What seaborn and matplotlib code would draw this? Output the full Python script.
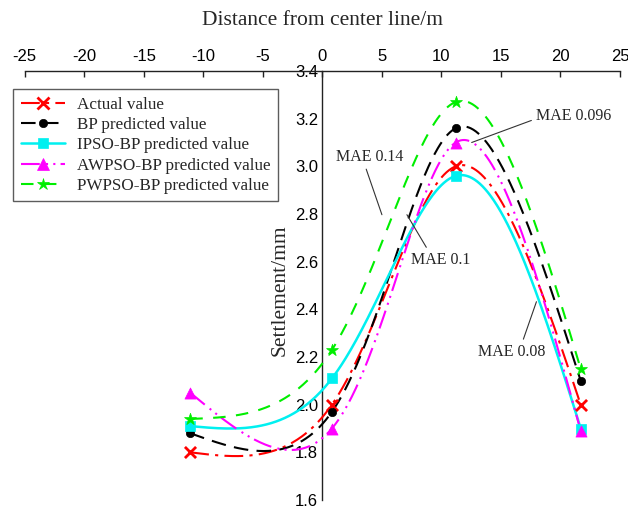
import numpy as np
import pandas as pd
import matplotlib
matplotlib.use("Agg")
import matplotlib.pyplot as plt
from matplotlib.lines import Line2D
import seaborn as sns

# Monitoring points (distance from center line, m)
distance = [-11.1, 0.8, 11.2, 21.7]

# Settlement values (mm) at each monitoring point
actual = [1.80, 2.00, 3.00, 2.00]
bp = [1.88, 1.97, 3.16, 2.10]
ipso_bp = [1.91, 2.11, 2.96, 1.90]
awpso_bp = [2.05, 1.90, 3.10, 1.89]
pwpso_bp = [1.94, 2.23, 3.27, 2.15]

series_names = ["Actual value", "BP predicted value", "IPSO-BP predicted value",
                "AWPSO-BP predicted value", "PWPSO-BP predicted value"]
series_values = [actual, bp, ipso_bp, awpso_bp, pwpso_bp]

x_ticks = [-25, -20, -15, -10, -5, 0, 5, 10, 15, 20, 25]
y_ticks = [1.6, 1.8, 2.0, 2.2, 2.4, 2.6, 2.8, 3.0, 3.2, 3.4]

mae_labels = ["MAE 0.14", "MAE 0.1", "MAE 0.096", "MAE 0.08"]

colors = ["#ff0000", "#000000", "#00f0f0", "#ff00ff", "#00ee00"]
markers = ["x", "o", "s", "^", "*"]
marker_sizes = [8, 6, 7, 8, 9]
dash_styles = [(0, (9, 3, 1.5, 3)), (0, (7, 4)), "-", (0, (9, 3, 1, 2.5, 1, 2.5)), (0, (6, 5))]
line_widths = [1.5, 1.5, 1.8, 1.5, 1.5]


def natural_coeffs(t, v):
    """Second derivatives of a natural cubic spline v(t)."""
    k = len(t)
    h = np.diff(t)
    A = np.zeros((k, k))
    b = np.zeros(k)
    A[0, 0] = A[-1, -1] = 1.0
    for i in range(1, k - 1):
        A[i, i - 1] = h[i - 1]
        A[i, i] = 2 * (h[i - 1] + h[i])
        A[i, i + 1] = h[i]
        b[i] = 6 * ((v[i + 1] - v[i]) / h[i] - (v[i] - v[i - 1]) / h[i - 1])
    return np.linalg.solve(A, b)


def eval_spline(t, v, m, ts):
    idx = np.clip(np.searchsorted(t, ts) - 1, 0, len(t) - 2)
    t0, t1 = t[idx], t[idx + 1]
    hi = t1 - t0
    a, c = t1 - ts, ts - t0
    return (m[idx] * a ** 3 + m[idx + 1] * c ** 3) / (6 * hi) \
        + (v[idx] / hi - m[idx] * hi / 6) * a \
        + (v[idx + 1] / hi - m[idx + 1] * hi / 6) * c


def smooth_curve(x, y, yscale=9.0, n=400):
    """Parametric (chord-length) natural cubic spline through the points."""
    x = np.asarray(x, float)
    y = np.asarray(y, float)
    ys_ = y * yscale
    seg = np.hypot(np.diff(x), np.diff(ys_))
    t = np.concatenate([[0.0], np.cumsum(seg)])
    ts = np.linspace(0, t[-1], n)
    xs = eval_spline(t, x, natural_coeffs(t, x), ts)
    yy = eval_spline(t, ys_, natural_coeffs(t, ys_), ts) / yscale
    return xs, yy


sns.set_style("white")
plt.rcParams["font.family"] = ["Liberation Sans", "DejaVu Sans"]
plt.rcParams["axes.unicode_minus"] = False

fig = plt.figure(figsize=(6.28, 5.12), dpi=100)
ax = fig.add_axes([24.8 / 628, 12 / 512, (620 - 24.8) / 628, (500 - 71) / 512])

handles = []
for name, vals, c, mk, ms, ls, lw in zip(series_names, series_values, colors, markers,
                                         marker_sizes, dash_styles, line_widths):
    xs, ys = smooth_curve(distance, vals)
    curve = pd.DataFrame({"x": xs, "y": ys})
    sns.lineplot(data=curve, x="x", y="y", ax=ax, color=c, linestyle=ls,
                 linewidth=lw, sort=False, estimator=None, legend=False, zorder=3)
    pts = pd.DataFrame({"x": distance, "y": vals})
    mk_kw = dict(linewidth=2) if mk == "x" else dict(edgecolor=c, linewidth=0.5)
    sns.scatterplot(data=pts, x="x", y="y", ax=ax, color=c, marker=mk,
                    s=ms ** 2, legend=False, zorder=4, **mk_kw)
    handles.append(Line2D([], [], color=c, linestyle=ls, linewidth=lw, marker=mk,
                          markersize=ms, markeredgewidth=2 if mk == "x" else 0.5))

ax.set_xlim(-25, 25)
ax.set_ylim(1.6, 3.4)
ax.set_xticks(x_ticks)
ax.set_yticks(y_ticks)
ax.set_yticklabels([f"{v:.1f}" for v in y_ticks])
ax.xaxis.tick_top()
ax.xaxis.set_label_position("top")

ax.spines["bottom"].set_visible(False)
ax.spines["right"].set_visible(False)
ax.spines["left"].set_position(("data", 0))
for s in ("left", "top"):
    ax.spines[s].set_color("#222222")
    ax.spines[s].set_linewidth(1.0)

ax.tick_params(axis="x", direction="in", length=4.5, width=1, pad=5,
               labelsize=12, colors="#222222", labelcolor="black")
ax.tick_params(axis="y", direction="in", length=4.5, width=1, pad=3,
               labelsize=12, colors="#222222", labelcolor="black")

serif = ["Liberation Serif", "DejaVu Serif"]
ax.set_xlabel("Distance from center line/m", family=serif, fontsize=15.5, labelpad=17)
ax.set_ylabel("Settlement/mm", family=serif, fontsize=15.5)
ax.yaxis.set_label_coords((290 - 24.8) / (620 - 24.8), 0.49)

leg = ax.legend(handles, series_names, loc="upper left",
                bbox_to_anchor=(13 / 628, 1 - 89 / 512), bbox_transform=fig.transFigure,
                prop={"family": serif, "size": 12.3}, frameon=True, fancybox=False,
                handlelength=2.6, handletextpad=0.7, labelspacing=0.25,
                borderpad=0.45, borderaxespad=0, numpoints=1)
leg.get_frame().set_edgecolor("#333333")
leg.get_frame().set_linewidth(1.0)

# MAE call-outs
ann_kw = dict(family=serif, fontsize=11.5, ha="center", va="center", zorder=6)
line_kw = dict(arrowstyle="-", color="#333333", lw=0.8, shrinkA=1, shrinkB=0)
ax.annotate(mae_labels[0], xy=(5.0, 2.797), xytext=(4.0, 3.041),
            arrowprops=dict(relpos=(0.42, 0.0), **line_kw), **ann_kw)
ax.annotate(mae_labels[1], xy=(7.1, 2.797), xytext=(9.95, 2.608),
            arrowprops=dict(relpos=(0.3, 1.0), **line_kw), **ann_kw)
ax.annotate(mae_labels[2], xy=(12.54, 3.10), xytext=(21.1, 3.213),
            arrowprops=dict(relpos=(0.0, 0.3), **line_kw), **ann_kw)
ax.annotate(mae_labels[3], xy=(17.98, 2.432), xytext=(15.9, 2.222),
            arrowprops=dict(relpos=(0.65, 1.0), **line_kw), **ann_kw)

fig.savefig("out.png", dpi=100)
